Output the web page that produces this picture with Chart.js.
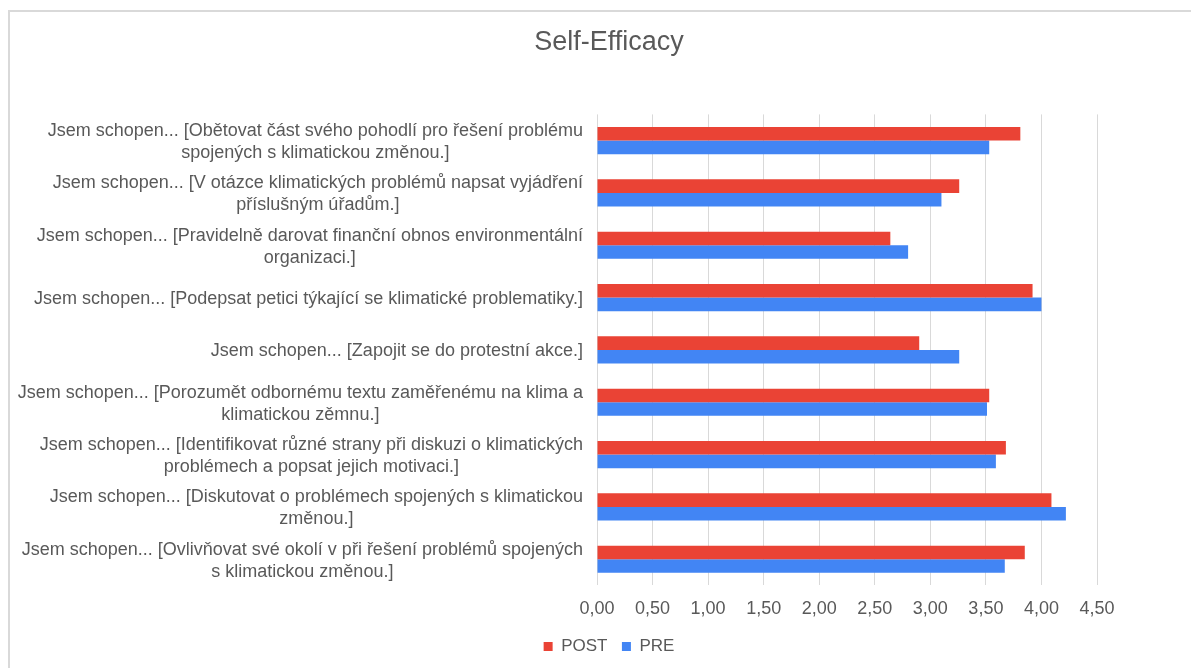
<!DOCTYPE html>
<html>
<head>
<meta charset="utf-8">
<script src="https://cdn.jsdelivr.net/npm/chart.js@4/dist/chart.umd.min.js"></script>
<style>
  html, body { margin: 0; padding: 0; background: #fff; overflow: hidden; }
  #frame { position: absolute; left: 8px; top: 10px; width: 1200px; height: 700px;
           border-top: 2px solid #d9d9d9; border-left: 2px solid #d9d9d9; }
  #wrap { position: absolute; left: 0; top: 0; width: 1191px; height: 668px; }
</style>
</head>
<body>
<div id="frame"></div>
<div id="wrap"><canvas id="myChart" width="1191" height="668"></canvas></div>
<script>
// popisky kategorií (řádky tak, jak jsou zalomené v originále)
const categories = [
    ["Jsem schopen... [Obětovat část svého pohodlí pro řešení problému", "spojených s klimatickou změnou.]"],
    ["Jsem schopen... [V otázce klimatických problémů napsat vyjádření", "příslušným úřadům.]"],
    ["Jsem schopen... [Pravidelně darovat finanční obnos environmentální", "organizaci.]"],
    ["Jsem schopen... [Podepsat petici týkající se klimatické problematiky.]"],
    ["Jsem schopen... [Zapojit se do protestní akce.]"],
    ["Jsem schopen... [Porozumět odbornému textu zaměřenému na klima a", "klimatickou zěmnu.]"],
    ["Jsem schopen... [Identifikovat různé strany při diskuzi o klimatických", "problémech a popsat jejich motivaci.]"],
    ["Jsem schopen... [Diskutovat o problémech spojených s klimatickou", "změnou.]"],
    ["Jsem schopen... [Ovlivňovat své okolí v při řešení problémů spojených", "s klimatickou změnou.]"]
];
const postValues = [3.81, 3.26, 2.64, 3.92, 2.90, 3.53, 3.68, 4.09, 3.85];
const preValues = [3.53, 3.10, 2.80, 4.00, 3.26, 3.51, 3.59, 4.22, 3.67];
const xTicks = [0, 0.5, 1, 1.5, 2, 2.5, 3, 3.5, 4, 4.5];

const FONT = '"Liberation Sans", Arial, sans-serif';
const GREY = '#595959';

// vykreslení popisků osy Y - řádky centrované v bloku, blok zarovnaný doprava
const popiskyPlugin = {
    id: 'popisky',
    afterDraw(chart) {
        const ctx = chart.ctx;
        const yScale = chart.scales.y;
        const right = chart.chartArea.left - 14;
        const lh = 22;
        ctx.save();
        ctx.font = '18px ' + FONT;
        ctx.fillStyle = GREY;
        ctx.textAlign = 'center';
        ctx.textBaseline = 'middle';
        categories.forEach((lines, i) => {
            const maxW = Math.max(...lines.map(l => ctx.measureText(l).width));
            const cx = right - maxW / 2;
            const cy = yScale.getPixelForValue(i) + 1.5;
            const y0 = cy - (lines.length - 1) * lh / 2;
            lines.forEach((l, j) => ctx.fillText(l, cx, y0 + j * lh));
        });
        ctx.restore();
    }
};

const ctx = document.getElementById('myChart').getContext('2d');
const myChart = new Chart(ctx, {
    type: 'bar',
    data: {
        labels: categories,
        datasets: [{
            label: 'POST',
            data: postValues,
            backgroundColor: '#ea4335',
            borderWidth: 0
        }, {
            label: 'PRE',
            data: preValues,
            backgroundColor: '#4285f4',
            borderWidth: 0
        }]
    },
    options: {
        indexAxis: 'y',
        responsive: false,
        animation: false,
        categoryPercentage: 0.52,
        barPercentage: 1.0,
        layout: {
            padding: { left: 121, right: 94, top: 0, bottom: 3 }
        },
        scales: {
            x: {
                min: 0,
                max: 4.5,
                afterBuildTicks(scale) {
                    scale.ticks = xTicks.map(v => ({ value: v }));
                },
                ticks: {
                    padding: 12.5,
                    color: GREY,
                    font: { family: FONT, size: 18 },
                    callback: v => v.toFixed(2).replace('.', ',')
                },
                grid: { color: '#d9d9d9', drawTicks: false },
                border: { display: false }
            },
            y: {
                ticks: { display: false },
                grid: { display: false },
                border: { display: false },
                afterFit(scale) {
                    scale.width = 597 - 121;
                }
            }
        },
        plugins: {
            title: {
                display: true,
                text: 'Self-Efficacy',
                color: GREY,
                font: { family: FONT, size: 27, weight: 'normal' },
                padding: { top: 26, bottom: 56 }
            },
            legend: {
                position: 'bottom',
                labels: {
                    color: GREY,
                    font: { family: FONT, size: 17 },
                    boxWidth: 9,
                    boxHeight: 9,
                    padding: 6,
                    generateLabels(chart) {
                        const items = Chart.defaults.plugins.legend.labels.generateLabels(chart);
                        items.forEach((it, i) => { if (i < items.length - 1) it.text = it.text + '\u2002'; });
                        return items;
                    }
                }
            },
            tooltip: { enabled: false }
        }
    },
    plugins: [popiskyPlugin]
});
</script>
</body>
</html>
